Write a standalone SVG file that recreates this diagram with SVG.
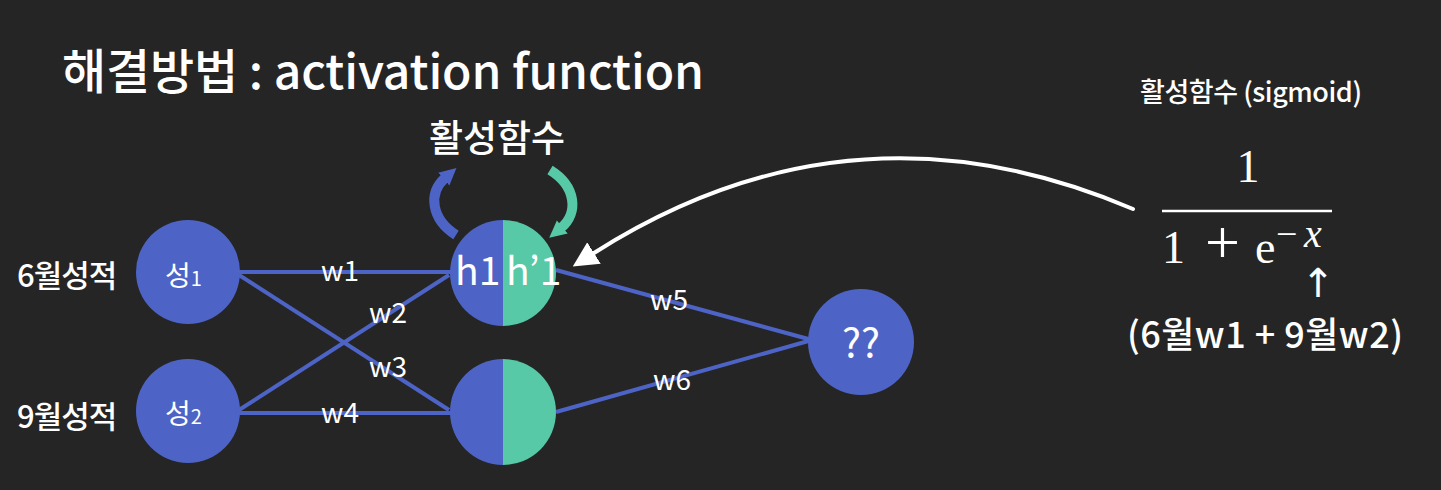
<svg xmlns="http://www.w3.org/2000/svg" width="1441" height="490" viewBox="0 0 1441 490">
<defs>
<style>
.t{font-family:"Noto Sans CJK KR","Noto Sans",sans-serif;fill:#ffffff;font-weight:400}
.md{font-weight:500}
.m{font-family:"Liberation Serif","DejaVu Serif",serif;fill:#ffffff}
.edge{stroke:#4d64c6;stroke-width:4;fill:none}
.blue{fill:#4d64c6}
.teal{fill:#57c9a6}
.lbl{font-size:28px}
</style>
<marker id="hw" viewBox="0 0 10 10" refX="0" refY="5" markerWidth="6.3" markerHeight="10.5" markerUnits="strokeWidth" orient="auto">
<path d="M0,0 L10,5 L0,10 z" fill="#ffffff"/>
</marker>
<marker id="hb" viewBox="0 0 10 10" refX="1" refY="5" markerWidth="1.7" markerHeight="2.6" markerUnits="strokeWidth" orient="auto">
<path d="M0,0 L10,5 L0,10 z" fill="#4d64c6"/>
</marker>
<marker id="ht" viewBox="0 0 10 10" refX="1" refY="5" markerWidth="1.7" markerHeight="2.6" markerUnits="strokeWidth" orient="auto">
<path d="M0,0 L10,5 L0,10 z" fill="#57c9a6"/>
</marker>
</defs>
<rect width="1441" height="490" fill="#252525"/>

<g id="title">
<text class="t md" x="62" y="89" font-size="48" textLength="642" lengthAdjust="spacing">해결방법 : activation function</text>
</g>

<g id="connectors">
<line class="edge" x1="238" y1="272" x2="452" y2="272"/>
<line class="edge" x1="239" y1="275" x2="449" y2="410"/>
<line class="edge" x1="239" y1="410" x2="449" y2="275"/>
<line class="edge" x1="238" y1="413" x2="452" y2="413"/>
<line class="edge" x1="556" y1="270" x2="812" y2="340"/>
<line class="edge" x1="556" y1="412" x2="812" y2="340"/>
<path d="M456,235 C431,219 428,193 445,178" stroke="#4d64c6" stroke-width="10" fill="none" marker-end="url(#hb)"/>
<path d="M550,170 C576,186 579,213 561,228" stroke="#57c9a6" stroke-width="10" fill="none" marker-end="url(#ht)"/>
<path d="M1133,209 Q852,89 594,253" stroke="#ffffff" stroke-width="4" fill="none" stroke-linecap="round" marker-end="url(#hw)"/>
</g>

<g id="edge-labels" class="t lbl">
<text x="321" y="281">w1</text>
<text x="369" y="323">w2</text>
<text x="369" y="377">w3</text>
<text x="321" y="423">w4</text>
<text x="650" y="310">w5</text>
<text x="653" y="390">w6</text>
</g>

<g id="activation-label">
<text class="t md" x="497" y="152" font-size="37" text-anchor="middle">활성함수</text>
</g>

<g id="label-june">
<text class="t md" x="17" y="287" font-size="31" letter-spacing="-1">6월성적</text>
</g>
<g id="label-sept">
<text class="t md" x="17" y="428" font-size="31" letter-spacing="-1">9월성적</text>
</g>

<g id="input1">
<circle class="blue" cx="188" cy="272" r="52"/>
<text class="t" x="165" y="286" font-size="28">성<tspan font-size="20">1</tspan></text>
</g>
<g id="input2">
<circle class="blue" cx="188" cy="411" r="52"/>
<text class="t" x="165" y="424" font-size="28">성<tspan font-size="20">2</tspan></text>
</g>

<g id="hidden1">
<path class="blue" d="M503,220 A53,53 0 0 0 503,326 Z"/>
<path class="teal" d="M503,220 A53,53 0 0 1 503,326 Z"/>
<text class="t" x="455" y="285" font-size="39">h1</text>
<text class="t" x="506" y="285" font-size="39">h’1</text>
</g>
<g id="hidden2">
<path class="blue" d="M503,359 A53,53 0 0 0 503,465 Z"/>
<path class="teal" d="M503,359 A53,53 0 0 1 503,465 Z"/>
</g>

<g id="output">
<circle class="blue" cx="861" cy="342" r="53"/>
<text class="t" x="861" y="357" font-size="40" text-anchor="middle">??</text>
</g>

<g id="sigmoid">
<text class="t md" x="1140" y="102" font-size="27" textLength="222" lengthAdjust="spacing">활성함수 (sigmoid)</text>
<text class="m" x="1248" y="182" font-size="46" text-anchor="middle">1</text>
<line x1="1162" y1="211" x2="1332" y2="211" stroke="#ffffff" stroke-width="2.5"/>
<text class="m" font-size="46" y="263"><tspan x="1162">1</tspan><tspan x="1205" font-size="62">+</tspan><tspan x="1255">e</tspan></text>
<text class="m" font-size="38" y="247"><tspan x="1276">−</tspan><tspan x="1304" font-style="italic" font-size="40">x</tspan></text>
<text x="1318" y="297" font-size="40" text-anchor="middle" font-family="DejaVu Sans, sans-serif" fill="#ffffff">↑</text>
<text class="t md" x="1127" y="348" font-size="36" textLength="276" lengthAdjust="spacing">(6월w1 + 9월w2)</text>
</g>
</svg>
